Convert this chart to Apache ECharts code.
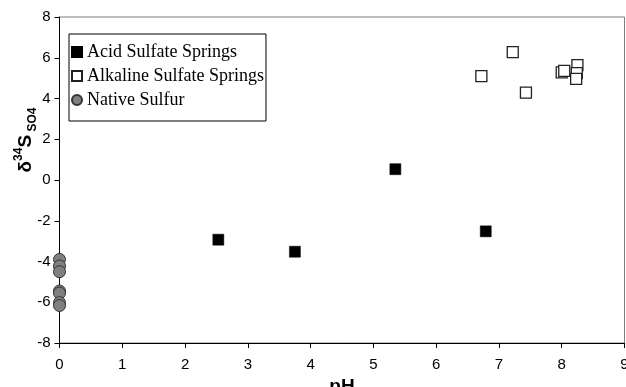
<!DOCTYPE html>
<html>
<head>
<meta charset="utf-8">
<script src="https://cdn.jsdelivr.net/npm/echarts@6/dist/echarts.min.js"></script>
<style>
html,body{margin:0;padding:0;background:#fff;}
#c{width:626px;height:387px;}
</style>
</head>
<body>
<div id="c"></div>
<script>
// Data
const acidPH = [2.53, 3.75, 5.35, 6.79];
const acidD34S = [-2.93, -3.52, 0.53, -2.52];

const alkalinePH = [6.72, 7.22, 7.43, 8.00, 8.04, 8.25, 8.24, 8.23];
const alkalineD34S = [5.10, 6.28, 4.29, 5.28, 5.36, 5.64, 5.25, 4.96];

const nativePH = [0, 0, 0, 0, 0, 0, 0];
const nativeD34S = [-3.9, -4.22, -4.5, -5.45, -5.55, -6.02, -6.16];

const xTicks = [0, 9, 1];   // min, max, interval
const yTicks = [-8, 8, 2];

const seriesNames = ['Acid Sulfate Springs', 'Alkaline Sulfate Springs', 'Native Sulfur'];

function pairs(xs, ys) { return xs.map((x, i) => [x, ys[i]]); }

const chart = echarts.init(document.getElementById('c'), null, {renderer: 'canvas'});
chart.setOption({
  animation: false,
  backgroundColor: '#ffffff',
  grid: {
    left: 59.5, top: 17, width: 565, height: 326,
    outerBoundsMode: 'none', containLabel: false,
    show: true, borderColor: '#7f7f7f', borderWidth: 1, backgroundColor: 'transparent'
  },
  legend: {
    orient: 'vertical',
    left: 69, top: 34,
    backgroundColor: '#fff',
    borderColor: '#000', borderWidth: 1,
    padding: [9, 2, 12, 2],
    itemGap: 6,
    itemWidth: 10, itemHeight: 10,
    textStyle: {fontFamily: 'Liberation Serif, Times New Roman, serif', fontSize: 18, color: '#000', padding: [0,0,0,0]},
    data: seriesNames
  },
  xAxis: {
    type: 'value', min: xTicks[0], max: xTicks[1], interval: xTicks[2],
    axisLine: {show: true, onZero: false, lineStyle: {color: '#000', width: 1}},
    axisTick: {show: true, inside: false, length: 5, lineStyle: {color: '#000'}},
    axisLabel: {fontFamily: 'Liberation Sans, Arial, sans-serif', fontSize: 15, color: '#000', margin: 14},
    splitLine: {show: false}
  },
  yAxis: {
    type: 'value', min: yTicks[0], max: yTicks[1], interval: yTicks[2],
    axisLine: {show: true, onZero: false, lineStyle: {color: '#000', width: 1}},
    axisTick: {show: true, inside: false, length: 5, lineStyle: {color: '#000'}},
    axisLabel: {fontFamily: 'Liberation Sans, Arial, sans-serif', fontSize: 15, color: '#000', margin: 9},
    splitLine: {show: false}
  },
  graphic: [
    {
      type: 'text', x: 26, y: 140, rotation: Math.PI / 2,
      style: {
        text: '{d|δ}{sup|34}{d|S}{sub| SO4}',
        textAlign: 'center', textVerticalAlign: 'middle',
        fill: '#000',
        rich: {
          d: {fontFamily: 'Liberation Sans, Arial, sans-serif', fontSize: 19, fontWeight: 'bold', lineHeight: 26, verticalAlign: 'middle'},
          sup: {fontFamily: 'Liberation Sans, Arial, sans-serif', fontSize: 12, fontWeight: 'bold', lineHeight: 26, verticalAlign: 'top'},
          sub: {fontFamily: 'Liberation Sans, Arial, sans-serif', fontSize: 12, fontWeight: 'bold', lineHeight: 26, verticalAlign: 'bottom'}
        }
      }
    },
    {
      type: 'text', x: 342, y: 377,
      style: {
        text: 'pH', textAlign: 'center', textVerticalAlign: 'top',
        fill: '#000',
        font: 'bold 19px Liberation Sans, Arial, sans-serif'
      }
    }
  ],
  series: [
    {
      name: seriesNames[0], type: 'scatter', symbol: 'rect', symbolSize: 11,
      itemStyle: {color: '#000', borderColor: '#000', borderWidth: 0.5, opacity: 1},
      data: pairs(acidPH, acidD34S), z: 3
    },
    {
      name: seriesNames[1], type: 'scatter', symbol: 'rect', symbolSize: 11,
      itemStyle: {color: '#fff', borderColor: '#222', borderWidth: 1.3, opacity: 1},
      data: pairs(alkalinePH, alkalineD34S), z: 3
    },
    {
      name: seriesNames[2], type: 'scatter', symbol: 'circle', symbolSize: 12,
      itemStyle: {color: '#808080', borderColor: '#333', borderWidth: 1, opacity: 1},
      data: pairs(nativePH, nativeD34S), z: 4
    }
  ]
});
</script>
</body>
</html>
